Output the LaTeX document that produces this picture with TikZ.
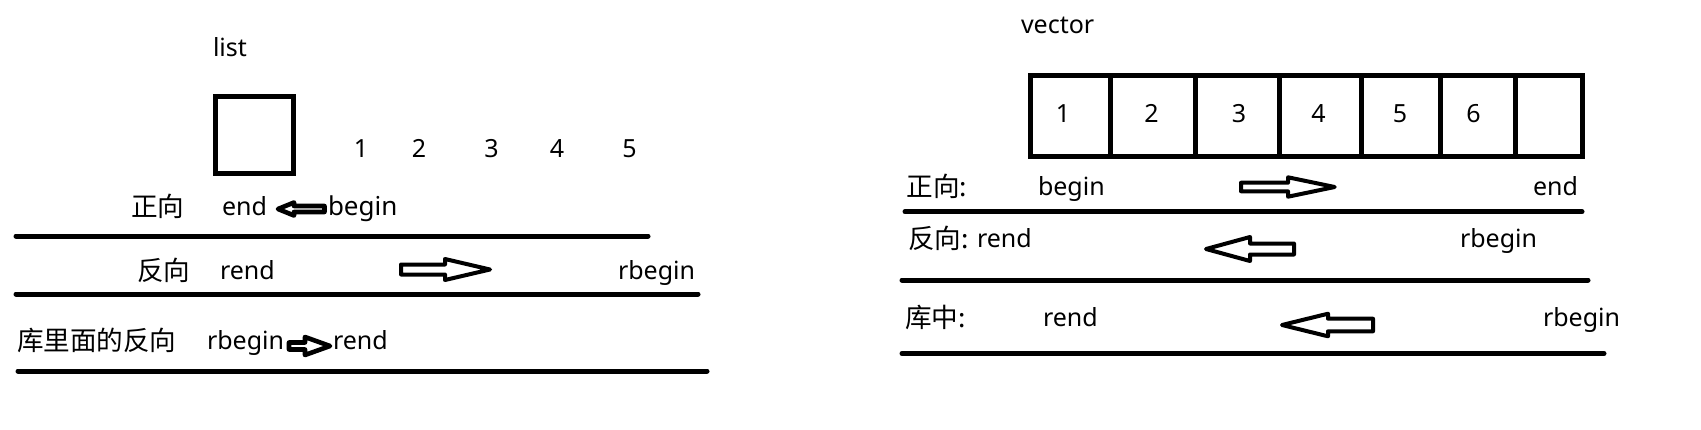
\documentclass[tikz,border=0pt]{standalone}
\usepackage{fontspec}
\setmainfont{Noto Sans}
\newfontfamily\cjk{Noto Sans CJK SC}
\begin{document}
\begin{tikzpicture}[x=1pt,y=-1pt,
  txt/.style={anchor=base west,inner sep=0pt,outer sep=0pt,font=\fontsize{25}{30}\selectfont},
  ctxt/.style={txt,font=\fontsize{26.6}{32}\selectfont\cjk},
  dig/.style={anchor=base,inner sep=0pt,font=\fontsize{25}{30}\selectfont},
  rule/.style={line width=5pt,line cap=round},
  cell/.style={line width=5pt},
  blk/.style={line width=4pt,line join=round,fill=white}]
\path[use as bounding box,fill=white] (0,0) rectangle (1701,429);

% ---------------- list ----------------
\node[txt] (list) at (213,56) {list};
\draw[cell] (215.5,96.5) rectangle (293.5,173);
\node[dig] (l1) at (361,157) {1};
\node[dig] (l2) at (419,157) {2};
\node[dig] (l3) at (491.5,157) {3};
\node[dig] (l4) at (557,157) {4};
\node[dig] (l5) at (629.5,157) {5};

\node[ctxt] (lz) at (131,216) {正向};
\node[txt] (lend) at (222,215) {end};
\draw[blk,line width=4.6pt] (278,209) -- (294,202.5) -- (294,206) -- (324.5,206) -- (324.5,212) -- (294,212) -- (294,215.5) -- cycle;
\node[txt,font=\fontsize{26}{30}\selectfont] (lbegin) at (328,215) {begin};
\coordinate (la1) at (16,236); \coordinate (lb1) at (648,236);
\draw[rule] (la1) -- (lb1);

\node[ctxt] (lf) at (137,280) {反向};
\node[txt] (lrend) at (220,279) {rend};
\draw[blk] (490,269.5) -- (445,259) -- (445,264.5) -- (401,264.5) -- (401,274.5) -- (445,274.5) -- (445,280) -- cycle;
\node[txt] (lrbegin) at (618,279) {rbegin};
\coordinate (la2) at (16,294); \coordinate (lb2) at (698,294);
\draw[rule] (la2) -- (lb2);

\node[ctxt] (lk) at (17,350) {库里面的反向};
\node[txt] (lrb2) at (207,349) {rbegin};
\draw[blk,line width=4.6pt] (330,346) -- (305,337) -- (305,342.5) -- (289,342.5) -- (289,349.5) -- (305,349.5) -- (305,355) -- cycle;
\node[txt] (lre2) at (333,349) {rend};
\coordinate (la3) at (18,371); \coordinate (lb3) at (707,371);
\draw[rule] (la3) -- (lb3);

% ---------------- vector ----------------
\node[txt] (vec) at (1021,33) {vector};
\draw[cell] (1030.8,75.8) rectangle (1582.9,156.8);
\foreach \x in {1110.7,1195,1279,1361,1440.5,1515.5}
  \draw[cell] (\x,75.8) -- (\x,156.8);
\node[dig] (v1) at (1063,122.5) {1};
\node[dig] (v2) at (1151.5,122.5) {2};
\node[dig] (v3) at (1239,122.5) {3};
\node[dig] (v4) at (1318.5,122.5) {4};
\node[dig] (v5) at (1400,122.5) {5};
\node[dig] (v6) at (1473.5,122.5) {6};

\node[ctxt] (vz) at (906.5,196) {正向:};
\node[txt] (vbegin) at (1038,195) {begin};
\draw[blk] (1334.7,187) -- (1288,177.3) -- (1288,182.7) -- (1241,182.7) -- (1241,191.3) -- (1288,191.3) -- (1288,196.7) -- cycle;
\node[txt] (vend) at (1533,195) {end};
\coordinate (va1) at (905,211.7); \coordinate (vb1) at (1582,211.7);
\draw[rule] (va1) -- (vb1);

\node[ctxt] (vf) at (908,248) {反向:};
\node[txt] (vrend) at (977,247) {rend};
\draw[blk] (1206,249) -- (1250,237) -- (1250,243.5) -- (1294,243.5) -- (1294,254.5) -- (1250,254.5) -- (1250,261) -- cycle;
\node[txt] (vrbegin) at (1460,247) {rbegin};
\coordinate (va2) at (902,280); \coordinate (vb2) at (1588,280);
\draw[rule] (va2) -- (vb2);

\node[ctxt] (vk) at (905,327) {库中:};
\node[txt] (vrend2) at (1043,326) {rend};
\draw[blk] (1282,325) -- (1328,313.7) -- (1328,318.7) -- (1373,318.7) -- (1373,331.3) -- (1328,331.3) -- (1328,336.3) -- cycle;
\node[txt] (vrbegin2) at (1543,326) {rbegin};
\coordinate (va3) at (902,353.5); \coordinate (vb3) at (1604,353.5);
\draw[rule] (va3) -- (vb3);
\end{tikzpicture}
\end{document}
